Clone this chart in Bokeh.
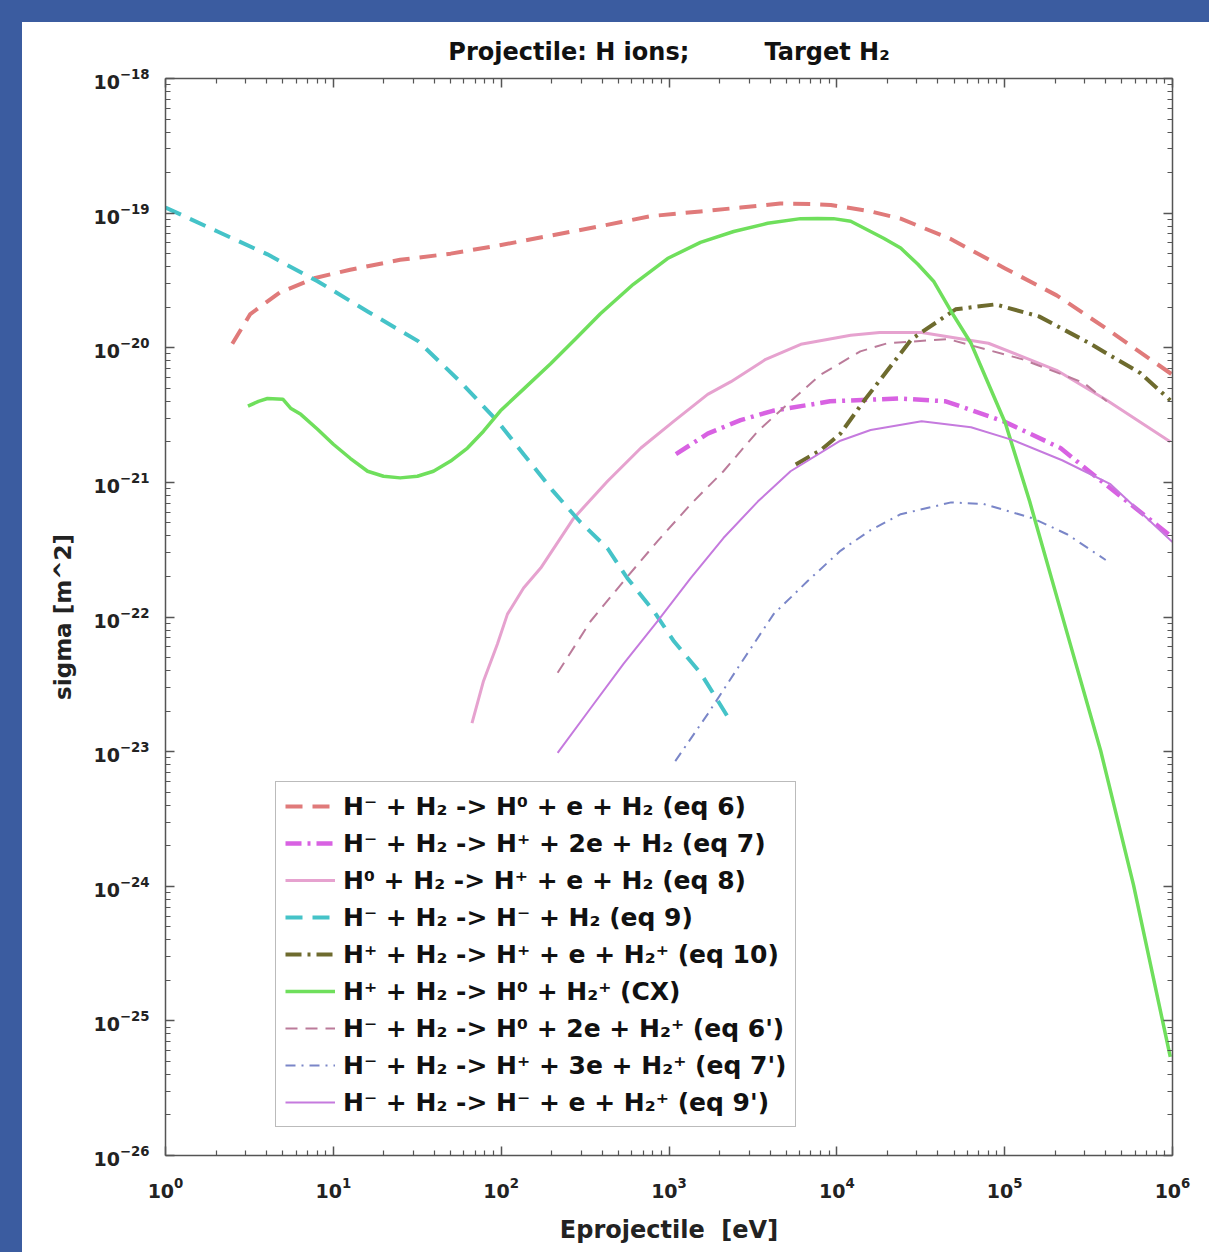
from bokeh.plotting import figure
from bokeh.models import FixedTicker, LogAxis, Legend, LegendItem, CustomJSTickFormatter, Div
from bokeh.layouts import column, row
from bokeh.embed import file_html
from bokeh.resources import INLINE

# ---------------- data (energy in eV, cross-section in m^2) ----------------
eq6_E = [2.5, 3.2, 4.8, 7.8, 12.6, 25, 50, 100, 196, 390, 780, 1540, 2670, 4600, 6970, 9200, 15900, 24000, 48000,
         1.0e5, 2.04e5, 4.06e5, 1.0e6]
eq6_S = [1.07e-20, 1.78e-20, 2.57e-20, 3.3e-20, 3.8e-20, 4.5e-20, 5.0e-20, 5.8e-20, 6.8e-20, 8.0e-20, 9.5e-20,
         1.03e-19, 1.1e-19, 1.18e-19, 1.17e-19, 1.15e-19, 1.03e-19, 9.1e-20, 6.4e-20, 3.9e-20, 2.45e-20, 1.38e-20,
         6.3e-21]

eq7_E = [1100, 1700, 2670, 4150, 9100, 23600, 44500, 98000, 2.15e5, 3.6e5, 1.0e6]
eq7_S = [1.62e-21, 2.3e-21, 2.9e-21, 3.4e-21, 4.0e-21, 4.2e-21, 4.0e-21, 2.85e-21, 1.8e-21, 1.07e-21, 3.9e-22]

eq8_E = [67, 78.5, 95, 109, 136, 172, 270, 430, 680, 1070, 1700, 2340, 3770, 6100, 12100, 18000, 32000, 80000,
         2.04e5, 4.06e5, 9.7e5]
eq8_S = [1.63e-23, 3.35e-23, 6.3e-23, 1.05e-22, 1.64e-22, 2.31e-22, 5.4e-22, 1.02e-21, 1.8e-21, 2.85e-21, 4.5e-21,
         5.6e-21, 8.2e-21, 1.06e-20, 1.24e-20, 1.3e-20, 1.3e-20, 1.08e-20, 6.8e-21, 4.07e-21, 2.0e-21]

eq9_E = [1.0, 2.04, 4.05, 8.05, 16, 32, 57, 95, 136, 204, 295, 430, 565, 810, 1070, 1550, 2260]
eq9_S = [1.1e-19, 7.3e-20, 4.94e-20, 3.12e-20, 1.86e-20, 1.12e-20, 5.6e-21, 2.85e-21, 1.62e-21, 8.6e-22, 5.1e-22,
         3.24e-22, 1.94e-22, 1.11e-22, 6.6e-23, 3.8e-23, 1.78e-23]

eq10_E = [5690, 8030, 10500, 14600, 27900, 51000, 88000, 1.6e5, 3.2e5, 6.46e5, 9.7e5]
eq10_S = [1.36e-21, 1.74e-21, 2.3e-21, 4.07e-21, 1.16e-20, 1.93e-20, 2.1e-20, 1.71e-20, 1.08e-20, 6.46e-21, 4.07e-21]

cx_E = [3.1, 3.58, 4.05, 5.0, 5.56, 6.4, 8.05, 10, 12.6, 16, 19.9, 25, 31.7, 39.5, 50, 63, 78.5, 99, 140, 197, 277,
        390, 613, 980, 1540, 2430, 3870, 6080, 7690, 9550, 12100, 19000, 24000, 30400, 37700, 48000, 63000, 1.01e5,
        1.41e5, 2.37e5, 3.73e5, 5.86e5, 9.7e5]
cx_S = [3.68e-21, 4.0e-21, 4.2e-21, 4.15e-21, 3.56e-21, 3.2e-21, 2.48e-21, 1.92e-21, 1.51e-21, 1.21e-21, 1.11e-21,
        1.08e-21, 1.11e-21, 1.21e-21, 1.44e-21, 1.8e-21, 2.4e-21, 3.4e-21, 5.1e-21, 7.6e-21, 1.16e-20, 1.79e-20,
        2.96e-20, 4.6e-20, 6.07e-20, 7.3e-20, 8.4e-20, 9.1e-20, 9.14e-20, 9.1e-20, 8.7e-20, 6.5e-20, 5.5e-20,
        4.17e-20, 3.12e-20, 1.86e-20, 1.08e-20, 2.75e-21, 7.2e-22, 7.4e-23, 1.02e-23, 1.02e-24, 5.4e-26]

eq6p_E = [217, 341, 537, 855, 1350, 2110, 3380, 5300, 8000, 13800, 20000, 46000, 1.28e5, 2.95e5, 4.06e5]
eq6p_S = [3.85e-23, 9.3e-23, 1.85e-22, 3.66e-22, 6.9e-22, 1.21e-21, 2.4e-21, 4.0e-21, 6.3e-21, 9.4e-21, 1.08e-20,
          1.16e-20, 8.2e-21, 5.5e-21, 4.0e-21]

eq7p_E = [1090, 1700, 2670, 4200, 6700, 10500, 15800, 24000, 48000, 75000, 1.48e5, 2.37e5, 4.0e5]
eq7p_S = [8.5e-24, 1.9e-23, 4.5e-23, 1.05e-22, 1.85e-22, 3.1e-22, 4.4e-22, 5.8e-22, 7.1e-22, 6.9e-22, 5.4e-22,
          4.1e-22, 2.65e-22]

eq9p_E = [217, 341, 537, 855, 1350, 2110, 3380, 5300, 10500, 15900, 32000, 63000, 1.12e5, 2.2e5, 4.27e5, 1.0e6]
eq9p_S = [9.8e-24, 2.1e-23, 4.5e-23, 9.3e-23, 1.95e-22, 3.86e-22, 7.2e-22, 1.21e-21, 2.04e-21, 2.45e-21, 2.85e-21,
          2.57e-21, 2.06e-21, 1.46e-21, 9.7e-22, 3.6e-22]

labels = [
    "H\u207b + H\u2082 -> H\u2070 + e + H\u2082 (eq 6)",
    "H\u207b + H\u2082 -> H\u207a + 2e + H\u2082 (eq 7)",
    "H\u2070 + H\u2082 -> H\u207a + e + H\u2082 (eq 8)",
    "H\u207b + H\u2082 -> H\u207b + H\u2082 (eq 9)",
    "H\u207a + H\u2082 -> H\u207a + e + H\u2082\u207a (eq 10)",
    "H\u207a + H\u2082 -> H\u2070 + H\u2082\u207a (CX)",
    "H\u207b + H\u2082 -> H\u2070 + 2e + H\u2082\u207a (eq 6')",
    "H\u207b + H\u2082 -> H\u207a + 3e + H\u2082\u207a (eq 7')",
    "H\u207b + H\u2082 -> H\u207b + e + H\u2082\u207a (eq 9')",
]
title_text = "Projectile: H ions;" + "\u00a0" * 9 + "Target H\u2082"

x_decades = [0, 1, 2, 3, 4, 5, 6]
y_decades = [-26, -25, -24, -23, -22, -21, -20, -19, -18]

FONT = "DejaVu Sans"
BLUE = "#3b5ca0"

p = figure(width=1187, height=1230, x_axis_type="log", y_axis_type="log",
           x_range=(1, 1e6), y_range=(1e-26, 1e-18),
           output_backend="svg", toolbar_location=None,
           min_border_left=143, min_border_right=37, min_border_top=55, min_border_bottom=97,
           title=title_text)
p.margin = (0, 0, 0, 0)
p.grid.visible = False
p.outline_line_color = None
p.background_fill_color = "white"
p.border_fill_color = "white"

p.title.align = "center"
p.title.text_font = FONT
p.title.text_font_style = "bold"
p.title.text_font_size = "24px"
p.title.text_color = "#111111"
p.title.standoff = 26

xt = FixedTicker(ticks=[10.0 ** k for k in x_decades],
                 minor_ticks=[m * 10.0 ** k for k in x_decades[:-1] for m in range(2, 10)])
yt = FixedTicker(ticks=[10.0 ** k for k in y_decades],
                 minor_ticks=[m * 10.0 ** k for k in y_decades[:-1] for m in range(2, 10)])


def style_axis(ax):
    ax.axis_line_color = "#555555"
    ax.axis_line_width = 1.5
    ax.major_tick_line_color = "#555555"
    ax.minor_tick_line_color = "#555555"
    ax.major_tick_line_width = 1.5
    ax.minor_tick_line_width = 1.2
    ax.major_tick_in = 9
    ax.major_tick_out = 0
    ax.minor_tick_in = 5
    ax.minor_tick_out = 0
    ax.major_label_text_font = FONT
    ax.major_label_text_font_style = "bold"
    ax.major_label_text_font_size = "19px"
    ax.major_label_text_color = "#222222"
    ax.axis_label_text_font = FONT
    ax.axis_label_text_font_style = "bold"
    ax.axis_label_text_color = "#222222"


p.xaxis.ticker = xt
p.yaxis.ticker = yt
style_axis(p.xaxis[0])
style_axis(p.yaxis[0])
p.xaxis.axis_label = "Eprojectile\u00a0\u00a0[eV]"
p.xaxis.axis_label_text_font_size = "24px"
p.xaxis.major_label_standoff = 21
p.xaxis.axis_label_standoff = 15
p.yaxis.axis_label = "sigma [m^2]"
p.yaxis.axis_label_text_font_size = "23px"
p.yaxis.major_label_standoff = 16
p.yaxis.axis_label_standoff = 14

blank = CustomJSTickFormatter(code="return ''")
top_ax = LogAxis(ticker=xt, formatter=blank)
right_ax = LogAxis(ticker=yt, formatter=blank)
style_axis(top_ax)
style_axis(right_ax)
for ax in (top_ax, right_ax):
    ax.major_label_standoff = 0
    ax.axis_label_standoff = 0
    ax.major_label_text_font_size = "0px"
p.add_layout(top_ax, "above")
p.add_layout(right_ax, "right")

series = [
    (eq6_E, eq6_S, "#e07a7a", 4.0, "17 10"),
    (eq7_E, eq7_S, "#d862e2", 4.5, "16 6 3 6"),
    (eq8_E, eq8_S, "#e6a2cf", 3.0, "solid"),
    (eq9_E, eq9_S, "#45c3c8", 4.0, "17 10"),
    (eq10_E, eq10_S, "#6e6b2e", 4.0, "16 6 3 6"),
    (cx_E, cx_S, "#6fdf5c", 3.5, "solid"),
    (eq6p_E, eq6p_S, "#bb7b9a", 2.0, "12 8"),
    (eq7p_E, eq7p_S, "#7a86c8", 2.0, "10 6 2 6"),
    (eq9p_E, eq9p_S, "#c57ade", 2.0, "solid"),
]

items = []
for (ex, sy, col, lw, dash), lab in zip(series, labels):
    r = p.line(ex, sy, line_color=col, line_width=lw, line_dash=dash, line_join="round")
    items.append(LegendItem(label=lab, renderers=[r]))

legend = Legend(items=items, location=(110, 28),
                label_text_font=FONT, label_text_font_style="bold", label_text_font_size="25px",
                label_text_color="#111111",
                glyph_width=50, glyph_height=30, label_height=30, spacing=7, padding=9, margin=0,
                label_standoff=8, border_line_color="#777777", border_line_width=1.5,
                background_fill_color="white", background_fill_alpha=1.0)
p.add_layout(legend)

# blue slide background visible along the top and left edges of the picture
top_strip = Div(text="", width=1209, height=22, margin=(0, 0, 0, 0),
                styles={"background-color": BLUE})
left_strip = Div(text="", width=22, height=1230, margin=(0, 0, 0, 0),
                 styles={"background-color": BLUE})
page = column(top_strip, row(left_strip, p, spacing=0), spacing=0)

open("out.html", "w").write(file_html(page, INLINE))
